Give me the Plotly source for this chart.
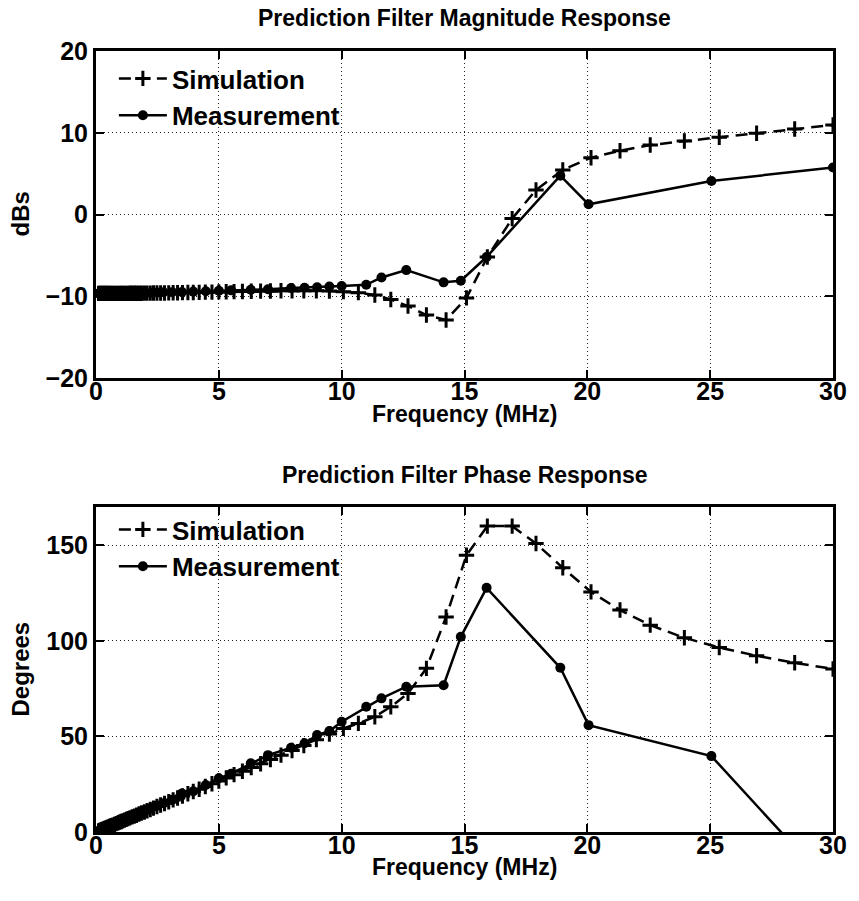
import plotly.graph_objects as go
from plotly.subplots import make_subplots

# ---------------- data ----------------
sim_freq = [0.10, 0.15, 0.20, 0.25, 0.30, 0.35, 0.40, 0.45, 0.50, 0.56, 0.62, 0.68,
            0.75, 0.82, 0.90, 0.97, 1.03, 1.09, 1.16, 1.23, 1.30, 1.38, 1.47, 1.56,
            1.65, 1.75, 1.85, 1.97, 2.08, 2.21, 2.34, 2.48, 2.63, 2.79, 2.96, 3.14,
            3.32, 3.52, 3.74, 3.96, 4.20, 4.45, 4.72, 5.00, 5.30, 5.62, 5.96, 6.32,
            6.70, 7.10, 7.53, 7.98, 8.46, 8.97, 9.50, 10.07, 10.68, 11.35, 12.00,
            12.70, 13.45, 14.25, 15.08, 15.93, 16.94, 17.91, 19.00, 20.15, 21.33,
            22.56, 23.95, 25.37, 26.89, 28.44, 30.00]
sim_mag = [-9.65, -9.65, -9.65, -9.65, -9.65, -9.65, -9.65, -9.65, -9.65, -9.65, -9.65, -9.65,
           -9.65, -9.65, -9.65, -9.65, -9.65, -9.65, -9.65, -9.65, -9.65, -9.64, -9.64, -9.64,
           -9.63, -9.63, -9.63, -9.62, -9.62, -9.62, -9.61, -9.61, -9.60, -9.60, -9.59, -9.58,
           -9.57, -9.56, -9.55, -9.54, -9.52, -9.50, -9.49, -9.47, -9.45, -9.43, -9.41, -9.39,
           -9.37, -9.35, -9.33, -9.32, -9.32, -9.33, -9.37, -9.44, -9.56, -9.85, -10.40,
           -11.20, -12.30, -12.90, -10.20, -5.20, -0.50, 3.00, 5.45, 6.95, 7.80,
           8.50, 9.00, 9.45, 9.93, 10.45, 10.95]
sim_phase = [0.5, 0.8, 1.1, 1.3, 1.6, 1.9, 2.1, 2.4, 2.7, 3.0, 3.3, 3.6,
             4.0, 4.4, 4.8, 5.2, 5.5, 5.8, 6.2, 6.6, 7.0, 7.4, 7.9, 8.3,
             8.8, 9.4, 9.9, 10.5, 11.1, 11.8, 12.5, 13.3, 14.1, 14.9, 15.8, 16.8,
             17.8, 18.8, 20.0, 21.2, 22.4, 23.8, 25.2, 26.7, 28.3, 30.0, 31.8, 33.7,
             35.7, 37.9, 40.2, 42.6, 45.2, 48.3, 51.3, 54.2, 56.8, 60.3, 65.5,
             72.5, 85.6, 112.5, 144.8, 160.0, 160.0, 150.9, 138.2, 125.6, 116.1,
             108.2, 101.6, 96.5, 92.2, 88.5, 85.3]

meas_freq = [0.1, 0.2, 0.3, 0.4, 0.5, 0.6, 0.7, 0.8, 0.9, 1.0, 1.2, 1.4, 1.6, 1.8,
             2.0, 2.25, 2.5, 2.75, 3.1, 3.5, 3.96, 4.47, 5.0, 5.5, 6.3, 7.0, 7.94,
             8.49, 9.0, 9.5, 10.0, 11.0, 11.62, 12.63, 14.15, 14.85, 15.9, 18.9,
             20.05, 25.05, 30.0]
meas_mag = [-9.65, -9.65, -9.65, -9.65, -9.65, -9.65, -9.65, -9.64, -9.64, -9.63, -9.62,
            -9.61, -9.60, -9.59, -9.58, -9.56, -9.54, -9.52, -9.50, -9.47, -9.43, -9.38,
            -9.33, -9.28, -9.20, -9.15, -9.00, -8.95, -8.90, -8.80, -8.75, -8.60, -7.70,
            -6.80, -8.30, -8.10, -5.20, 4.75, 1.25, 4.10, 5.75]
meas_phase = [0.6, 1.2, 1.7, 2.3, 2.9, 3.4, 4.0, 4.6, 5.1, 5.7, 6.8, 8.0, 9.1, 10.2,
              11.3, 12.6, 13.8, 15.1, 16.9, 20.2, 21.3, 24.6, 28.1, 30.5, 35.9, 40.2,
              44.1, 46.4, 50.7, 52.8, 57.7, 65.5, 69.9, 76.0, 76.8, 102.1, 127.7,
              85.9, 55.9, 39.7, -29.7]

x_ticks = [0, 5, 10, 15, 20, 25, 30]
mag_ticks = [-20, -10, 0, 10, 20]
mag_ticktext = ["\u221220", "\u221210", "0", "10", "20"]
phase_ticks = [0, 50, 100, 150]

# ---------------- figure ----------------
FONT = "Liberation Sans, Arial, sans-serif"
FS_TICK = 25
FS_TITLE = 23
FS_AXT = 23
FS_LEG = 26

fig = make_subplots(rows=2, cols=1, vertical_spacing=0.1652)

sim_style = dict(mode="lines+markers",
                 line=dict(color="black", width=2.5, dash="12px,7px"),
                 marker=dict(symbol="cross-thin", size=11, line=dict(color="black", width=3)))
meas_style = dict(mode="lines+markers",
                  line=dict(color="black", width=2.5),
                  marker=dict(symbol="circle", size=10, color="black"))

fig.add_trace(go.Scatter(x=sim_freq, y=sim_mag, name="Simulation", legend="legend", **sim_style), row=1, col=1)
fig.add_trace(go.Scatter(x=meas_freq, y=meas_mag, name="Measurement", legend="legend", **meas_style), row=1, col=1)
fig.add_trace(go.Scatter(x=sim_freq, y=sim_phase, name="Simulation", legend="legend2", **sim_style), row=2, col=1)
fig.add_trace(go.Scatter(x=meas_freq, y=meas_phase, name="Measurement", legend="legend2", **meas_style), row=2, col=1)

H = 901
W = 859
top_m, bot_m = 51, 69
l_m, r_m = 96, 21
plot_h = H - top_m - bot_m
plot_w = W - l_m - r_m

axis_common = dict(showline=True, linecolor="black", linewidth=3, mirror="ticks",
                   ticks="inside", ticklen=8, tickwidth=2, tickcolor="black",
                   showgrid=True, gridcolor="#222", gridwidth=1, griddash="1px,3px",
                   zeroline=False,
                   tickfont=dict(family=FONT, size=FS_TICK, color="black", weight="bold"))

fig.update_xaxes(range=[0, 30], tickvals=x_ticks, ticklabelstandoff=-11, **axis_common)
fig.update_yaxes(**axis_common)
fig.update_yaxes(range=[-20, 20], tickvals=mag_ticks, ticktext=mag_ticktext, row=1, col=1)
fig.update_yaxes(range=[0, 170], tickvals=phase_ticks, row=2, col=1)

fig.update_layout(
    xaxis=dict(domain=[0, 1]),
    yaxis=dict(domain=[(832 - 378) / plot_h, 1.0]),
    yaxis2=dict(domain=[0.0, (832 - 507) / plot_h]),
)

legend_common = dict(font=dict(family=FONT, size=FS_LEG, color="black", weight="bold"),
                     bgcolor="rgba(0,0,0,0)", borderwidth=0, xanchor="left", yanchor="top",
                     tracegroupgap=0, itemwidth=48)
fig.update_layout(
    legend=dict(x=(114 - l_m) / plot_w, y=(H - bot_m - 55) / plot_h, **legend_common),
    legend2=dict(x=(114 - l_m) / plot_w, y=(H - bot_m - 506) / plot_h, **legend_common),
)

def ypaper(ypix):
    return (H - bot_m - ypix) / plot_h

anns = []
for txt, ypix, fs in [("Prediction Filter Magnitude Response", 18, FS_TITLE),
                      ("Prediction Filter Phase Response", 475, FS_TITLE),
                      ("Frequency (MHz)", 414, FS_AXT),
                      ("Frequency (MHz)", 867, FS_AXT)]:
    anns.append(dict(text="<b>" + txt + "</b>", x=0.5, xref="paper", yref="paper",
                     y=ypaper(ypix), xanchor="center", yanchor="middle",
                     showarrow=False, font=dict(family=FONT, size=fs, color="black")))
for txt, ypix in [("dBs", 214), ("Degrees", 669)]:
    anns.append(dict(text="<b>" + txt + "</b>", x=-(l_m - 19) / plot_w, xref="paper", yref="paper",
                     y=ypaper(ypix), xanchor="center", yanchor="middle",
                     textangle=-90, showarrow=False,
                     font=dict(family=FONT, size=24, color="black")))
fig.update_layout(annotations=anns)

fig.update_layout(
    width=W, height=H,
    margin=dict(l=l_m, r=r_m, t=top_m, b=bot_m, pad=0),
    paper_bgcolor="white", plot_bgcolor="white",
    font=dict(family=FONT, size=FS_TICK, color="black"),
)

fig.write_html("out.html")
